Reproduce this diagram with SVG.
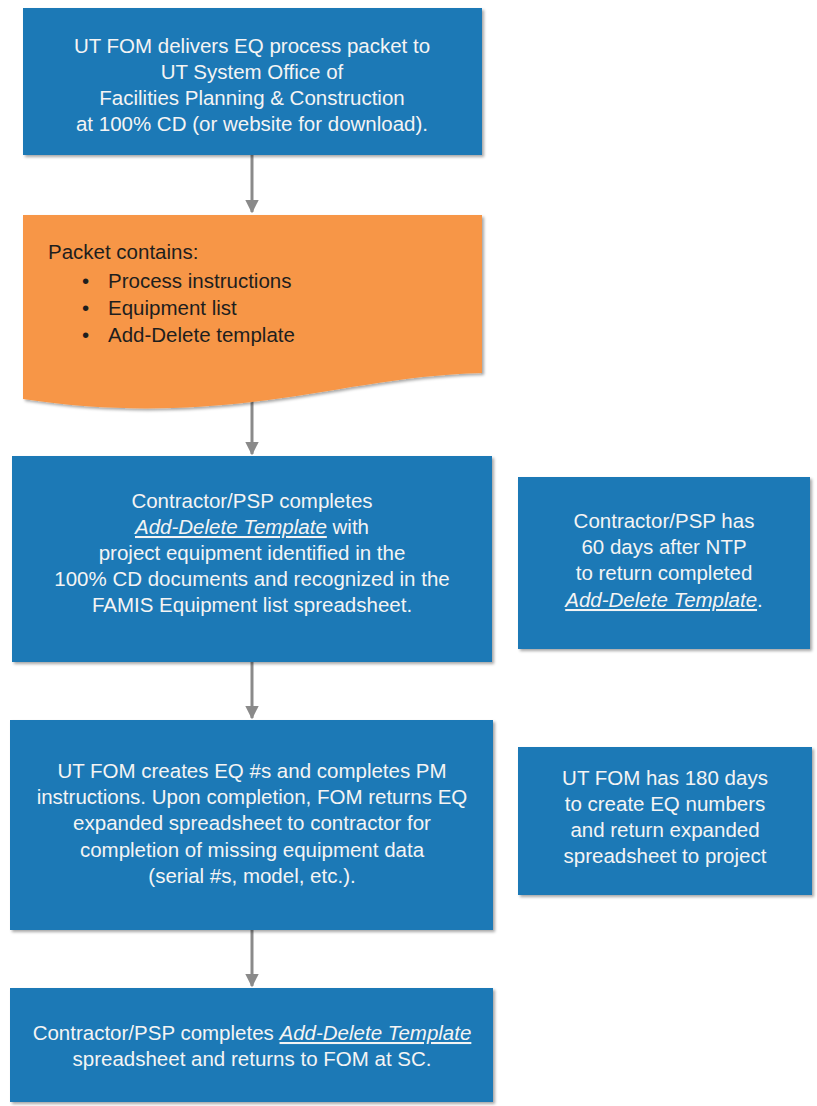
<svg xmlns="http://www.w3.org/2000/svg" width="817" height="1106" viewBox="0 0 817 1106">
<defs>
<style>
.blue{fill:#1a79b6;filter:url(#sh)}
.orange{fill:#f79646;filter:url(#sh)}
.wt{font-family:"Liberation Sans",Arial,sans-serif;font-size:20.5px;fill:#f4f4f4;text-anchor:middle}
.dt{font-family:"Liberation Sans",Arial,sans-serif;font-size:20.5px;fill:#1e1e1e}
.em{font-style:italic;text-decoration:underline}
.conn{stroke:#8a8a8a;stroke-width:3;fill:none;marker-end:url(#ah)}
</style>
<filter id="sh" x="-5%" y="-5%" width="112%" height="115%">
<feDropShadow dx="2" dy="2" stdDeviation="1.5" flood-color="#000" flood-opacity="0.35"/>
</filter>
<marker id="ah" viewBox="0 0 10 10" refX="9" refY="5" markerWidth="4.5" markerHeight="4.5" orient="auto" markerUnits="strokeWidth">
<path d="M0,0 L10,5 L0,10 Z" fill="#8a8a8a"/>
</marker>
</defs>
<g id="connectors">
<line class="conn" x1="252" y1="155" x2="252" y2="212"/>
<line class="conn" x1="252" y1="400" x2="252" y2="454"/>
<line class="conn" x1="252" y1="662" x2="252" y2="718"/>
<line class="conn" x1="252" y1="930" x2="252" y2="986"/>
</g>
<g id="n1">
<rect class="blue" x="23" y="8" width="459" height="147"/>
<text class="wt" x="252" y="53">UT FOM delivers EQ process packet to</text>
<text class="wt" x="252" y="79">UT System Office of</text>
<text class="wt" x="252" y="105">Facilities Planning &amp; Construction</text>
<text class="wt" x="252" y="131">at 100% CD (or website for download).</text>
</g>
<g id="n2">
<path class="orange" d="M23,215 H482 V373 C400,375 330,393 252,402 C180,410 110,412 23,399 Z"/>
<text class="dt" x="48" y="259">Packet contains:</text>
<text class="dt" x="82" y="288">•</text>
<text class="dt" x="108" y="288">Process instructions</text>
<text class="dt" x="82" y="315">•</text>
<text class="dt" x="108" y="315">Equipment list</text>
<text class="dt" x="82" y="342">•</text>
<text class="dt" x="108" y="342">Add-Delete template</text>
</g>
<g id="n3">
<rect class="blue" x="12" y="456" width="480" height="206"/>
<text class="wt" x="252" y="508">Contractor/PSP completes</text>
<text class="wt" x="252" y="534"><tspan class="em">Add-Delete Template</tspan> with</text>
<text class="wt" x="252" y="560">project equipment identified in the</text>
<text class="wt" x="252" y="586">100% CD documents and recognized in the</text>
<text class="wt" x="252" y="612">FAMIS Equipment list spreadsheet.</text>
</g>
<g id="n4">
<rect class="blue" x="518" y="477" width="292" height="172"/>
<text class="wt" x="664" y="528">Contractor/PSP has</text>
<text class="wt" x="664" y="554">60 days after NTP</text>
<text class="wt" x="664" y="580">to return completed</text>
<text class="wt" x="664" y="607"><tspan class="em">Add-Delete Template</tspan>.</text>
</g>
<g id="n5">
<rect class="blue" x="10" y="720" width="483" height="210"/>
<text class="wt" x="252" y="778">UT FOM creates EQ #s and completes PM</text>
<text class="wt" x="252" y="804">instructions. Upon completion, FOM returns EQ</text>
<text class="wt" x="252" y="830">expanded spreadsheet to contractor for</text>
<text class="wt" x="252" y="857">completion of missing equipment data</text>
<text class="wt" x="252" y="883">(serial #s, model, etc.).</text>
</g>
<g id="n6">
<rect class="blue" x="518" y="747" width="294" height="148"/>
<text class="wt" x="665" y="785">UT FOM has 180 days</text>
<text class="wt" x="665" y="811">to create EQ numbers</text>
<text class="wt" x="665" y="837">and return expanded</text>
<text class="wt" x="665" y="863">spreadsheet to project</text>
</g>
<g id="n7">
<rect class="blue" x="10" y="988" width="483" height="114"/>
<text class="wt" x="252" y="1040">Contractor/PSP completes <tspan class="em">Add-Delete Template</tspan></text>
<text class="wt" x="252" y="1066">spreadsheet and returns to FOM at SC.</text>
</g>
</svg>
